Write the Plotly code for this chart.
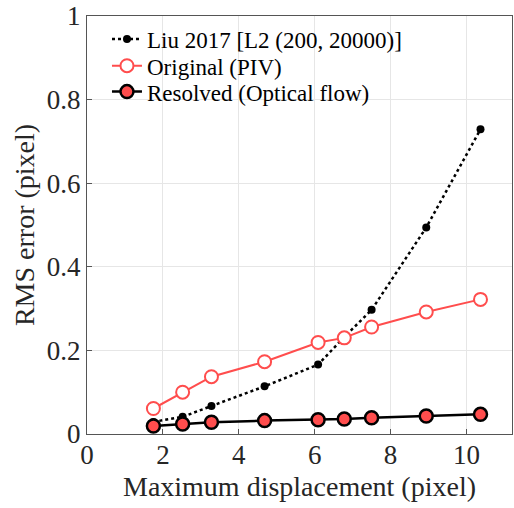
import plotly.graph_objects as go

x_vals = [1.75, 2.52, 3.28, 4.68, 6.09, 6.78, 7.50, 8.94, 10.37]
liu = [0.029, 0.041, 0.067, 0.114, 0.166, 0.232, 0.297, 0.494, 0.729]
original = [0.061, 0.100, 0.137, 0.173, 0.219, 0.230, 0.256, 0.292, 0.322]
resolved = [0.019, 0.024, 0.028, 0.032, 0.034, 0.036, 0.039, 0.043, 0.047]
names = ["Liu 2017 [L2 (200, 20000)]", "Original (PIV)", "Resolved (Optical flow)"]
x_ticks = [0, 2, 4, 6, 8, 10]
y_ticks = [0, 0.2, 0.4, 0.6, 0.8, 1]
y_tick_text = ["0", "0.2", "0.4", "0.6", "0.8", "1"]

RED = "#ff4d4d"
FONT = "Liberation Serif"

fig = go.Figure()
fig.add_trace(go.Scatter(
    x=x_vals, y=liu, name=names[0], mode="lines+markers", legend="legend",
    line=dict(color="black", width=2.5, dash="dot"),
    marker=dict(color="black", size=8, symbol="circle")))
fig.add_trace(go.Scatter(
    x=x_vals, y=original, name=names[1], mode="lines+markers", legend="legend2",
    line=dict(color=RED, width=2),
    marker=dict(color="white", size=13, symbol="circle",
                line=dict(color=RED, width=2))))
fig.add_trace(go.Scatter(
    x=x_vals, y=resolved, name=names[2], mode="lines+markers", legend="legend3",
    line=dict(color="black", width=2.5),
    marker=dict(color=RED, size=13, symbol="circle",
                line=dict(color="black", width=2.5))))

axis_common = dict(
    showgrid=True, gridcolor="#e6e6e6", gridwidth=1,
    showline=True, linecolor="#555555", linewidth=1, mirror=True,
    ticks="inside", ticklen=5, tickcolor="#555555",
    tickfont=dict(family=FONT, size=27, color="#262626"),
    ticklabeloverflow="allow",
    zeroline=False,
)

def legend_at(ypos):
    return dict(x=0.047, y=ypos, xanchor="left", yanchor="middle",
                bgcolor="rgba(0,0,0,0)", borderwidth=0,
                font=dict(family=FONT, size=23, color="#000000"),
                itemwidth=30)

fig.update_layout(
    width=514, height=508,
    margin=dict(l=87, r=1, t=14, b=74),
    paper_bgcolor="white", plot_bgcolor="white",
    font=dict(family=FONT, color="#262626"),
    showlegend=True,
    legend=legend_at(0.945),
    legend2=legend_at(0.881),
    legend3=legend_at(0.819),
    xaxis=dict(range=[0, 11.2], tickvals=x_ticks, ticklabelstandoff=-3,
               title=dict(text="Maximum displacement (pixel)", standoff=6,
                          font=dict(family=FONT, size=28, color="#262626")),
               **axis_common),
    yaxis=dict(range=[0, 1], tickvals=y_ticks, ticktext=y_tick_text,
               title=dict(text="RMS error (pixel)", standoff=4,
                          font=dict(family=FONT, size=28, color="#262626")),
               **axis_common),
)

fig.write_html("out.html")
